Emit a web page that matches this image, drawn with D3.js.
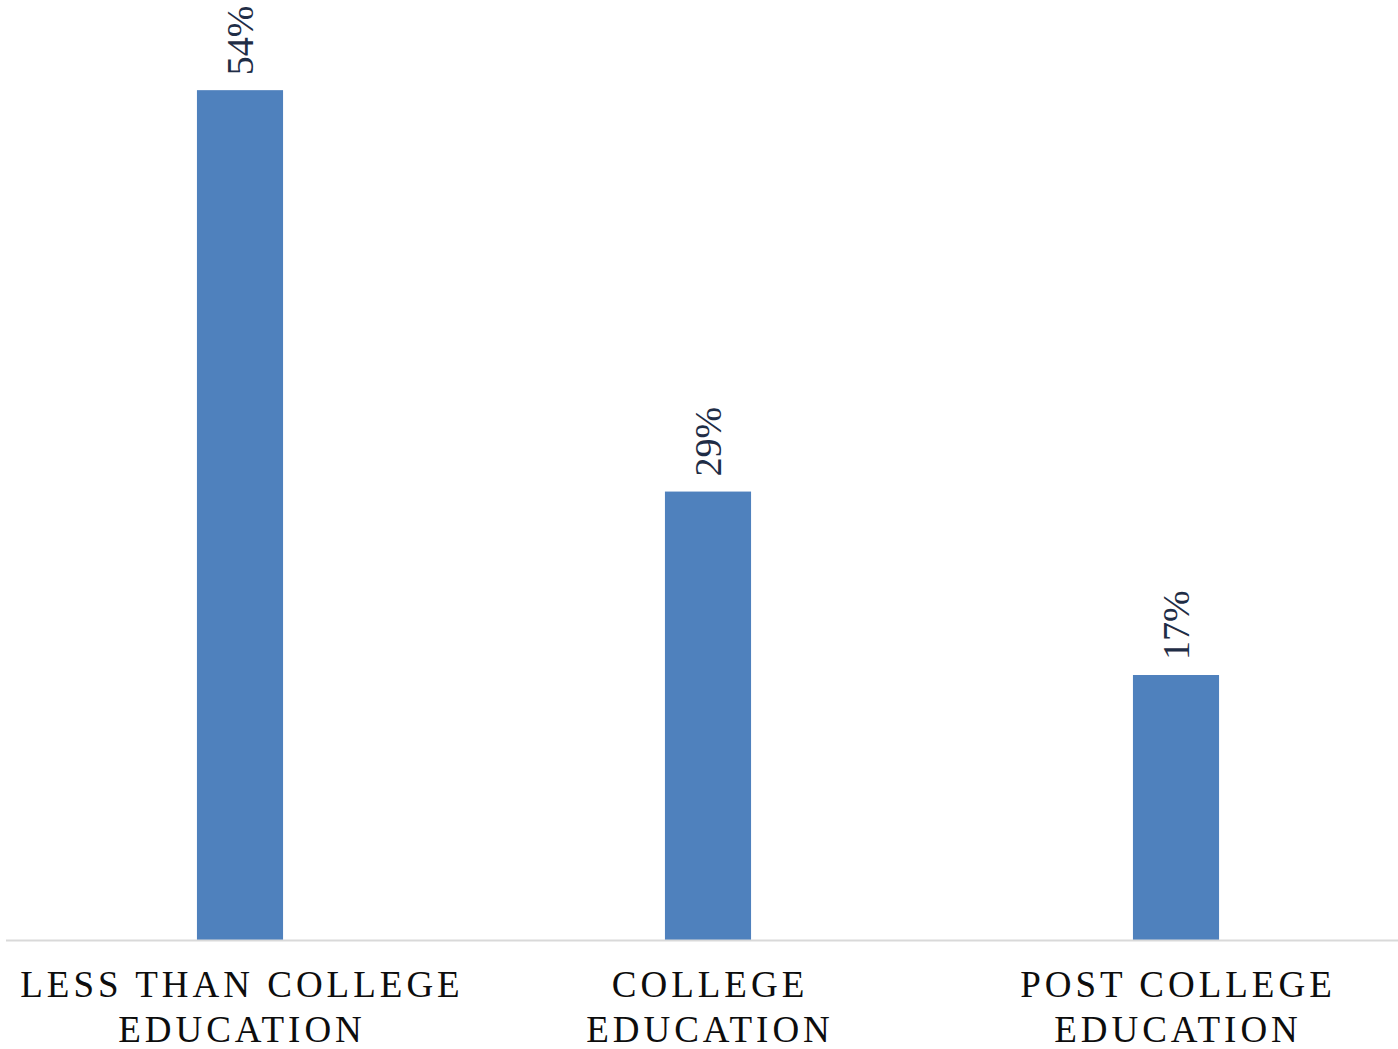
<!DOCTYPE html>
<html><head><meta charset="utf-8">
<script src="https://cdn.jsdelivr.net/npm/d3@7"></script>
<style>html,body{margin:0;padding:0;background:#fff;}
text{font-family:"Liberation Serif","Times New Roman",Times,serif;}</style>
</head><body>
<svg id="c" width="1398" height="1049"></svg>
<script>
const categories = [["LESS THAN COLLEGE","EDUCATION"],["COLLEGE","EDUCATION"],["POST COLLEGE","EDUCATION"]];
const values = [54.2, 28.6, 16.9];
const labels = ["54%","29%","17%"];

const svg = d3.select("#c");
const x = d3.scaleBand().domain(d3.range(values.length)).range([6,1410]).paddingInner(0.816).paddingOuter(0.408);
const y = d3.scaleLinear().domain([0,59.95]).range([940,0]);

svg.selectAll("rect.bar").data(values).join("rect").attr("class","bar")
  .attr("x",(d,i)=>x(i)).attr("width",x.bandwidth())
  .attr("y",d=>y(d)).attr("height",d=>y(0)-y(d)).attr("fill","#4f81bd");

svg.append("line").attr("x1",6).attr("x2",1398).attr("y1",y(0)+0.5).attr("y2",y(0)+0.5)
  .attr("stroke","#d9d9d9").attr("stroke-width",2);

svg.selectAll("text.val").data(values).join("text").attr("class","val")
  .attr("transform",(d,i)=>`translate(${x(i)+x.bandwidth()/2},${y(d)-15}) rotate(-90)`)
  .attr("dy","0.35em").attr("text-anchor","start")
  .attr("font-size",38).attr("fill","#1f2d46")
  .text((d,i)=>labels[i]);

const g = svg.selectAll("text.cat").data(categories).join("text").attr("class","cat")
  .attr("text-anchor","middle")
  .attr("font-size",37).attr("letter-spacing","4px").attr("fill","#0d0d0d");
g.each(function(d,i){
  const t=d3.select(this);
  d.forEach((line,j)=>{
    t.append("tspan").attr("x",x(i)+x.bandwidth()/2+2).attr("y",997+j*45).text(line);
  });
});
</script>
</body></html>
